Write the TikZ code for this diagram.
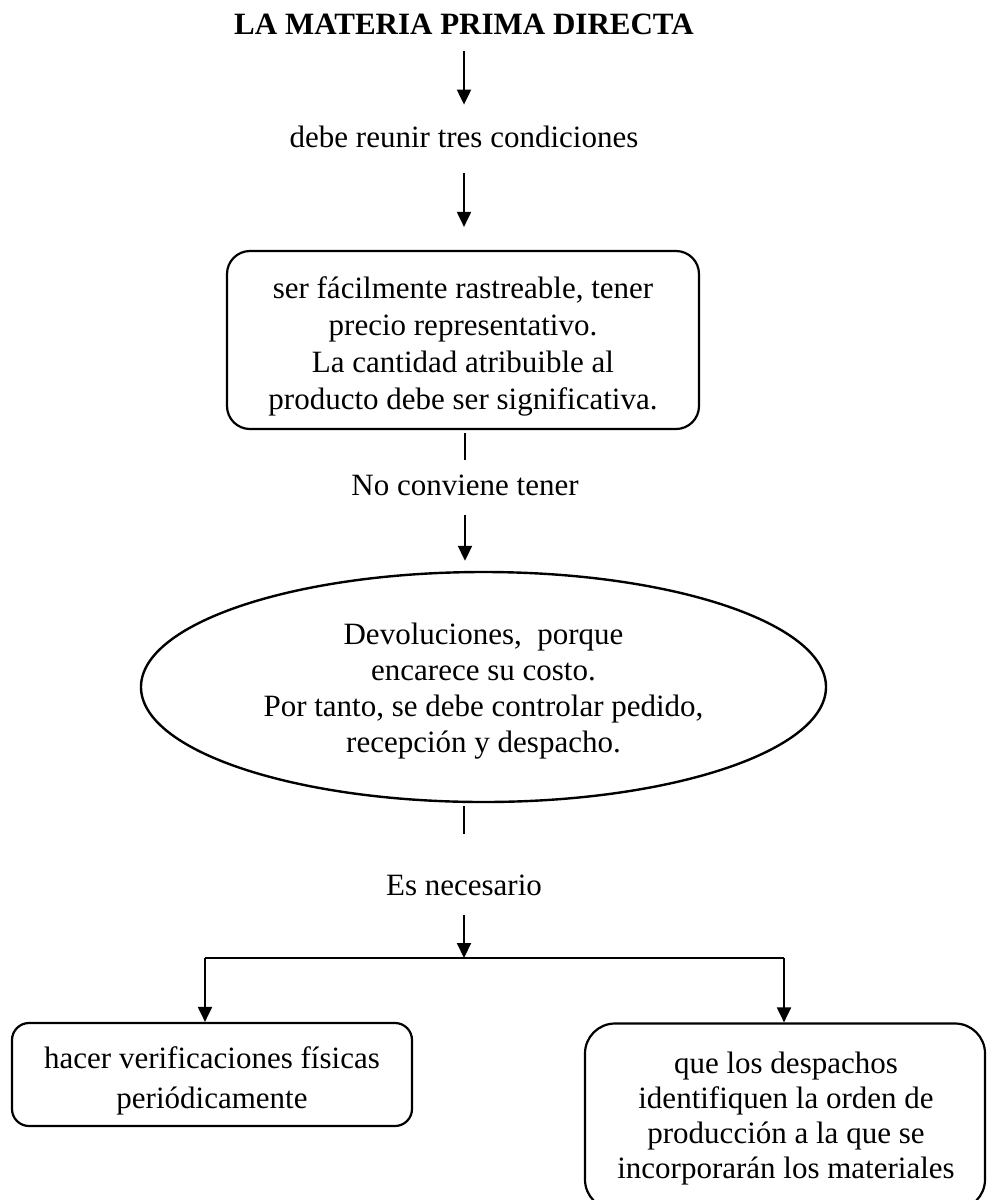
\documentclass[tikz,border=0pt]{standalone}
\usepackage{fontspec}
\setmainfont{Liberation Serif}
\usetikzlibrary{arrows.meta,shapes.geometric}
\begin{document}
\begin{tikzpicture}[x=0.5pt,y=-0.5pt,
  lbl/.style={inner sep=0pt, anchor=base, text height=10.5pt, text depth=3.5pt,
              font=\fontsize{15.5}{18.5}\selectfont},
  blk/.style={inner sep=0pt, anchor=north, align=center,
              font=\fontsize{15.5}{#1}\selectfont},
  blk/.default=18,
  frame/.style={draw, line width=1.1pt, inner sep=0pt},
  arr/.style={line width=1pt, -{Triangle[length=7.5pt,width=7pt]}},
  ln/.style={line width=1pt}]

\useasboundingbox (0,0) rectangle (987,1200);
\clip (0,0) rectangle (987,1200);

% title and first condition
\node[lbl, font=\bfseries\fontsize{15.5}{18.5}\selectfont] (title) at (464,34) {LA MATERIA PRIMA DIRECTA};
\node[lbl] (cond) at (464,147) {debe reunir tres condiciones};

% three conditions box
\node[frame, rounded corners=11.5pt, minimum width=236pt, minimum height=89pt] (box1) at (463,340) {};
\node[blk=18.5] (box1t) at (463,275.8) {ser fácilmente rastreable, tener\\precio representativo.\\La cantidad atribuible al\\producto debe ser significativa.};

\node[lbl] (nc) at (465,495) {No conviene tener};

% returns ellipse
\node[frame, ellipse, line width=1.2pt, minimum width=342.5pt, minimum height=115pt] (ell) at (483.5,687) {};
\node[blk=18] (ellt) at (483.5,622.8) {Devoluciones,\ \ porque\\encarece su costo.\\Por tanto, se debe controlar pedido,\\recepción y despacho.};

\node[lbl] (en) at (464,895) {Es necesario};

% two required actions
\node[frame, rounded corners=8.5pt, minimum width=200pt, minimum height=51.5pt] (box2) at (212,1074.5) {};
\node[blk=20] (box2t) at (212,1045.8) {hacer verificaciones físicas\\periódicamente};

\node[frame, rounded corners=15pt, minimum width=200pt, minimum height=93pt] (box3) at (785,1116.5) {};
\node[blk=17.5] (box3t) at (786,1051.8) {que los despachos\\identifiquen la orden de\\producción a la que se\\incorporarán los materiales};

% branching bar
\coordinate (split) at (464,958);
\coordinate (bl) at (205,958);
\coordinate (br) at (784,958);

% connectors
\draw[arr, shorten <=5pt, shorten >=10.5pt] (title.south) -- (cond.north);
\draw[arr, shorten <=9.5pt, shorten >=11.5pt] (cond.south) -- (cond.south |- box1.north);
\draw[ln, shorten <=1.5pt, shorten >=7pt] (box1.south -| nc.north) -- (nc.north);
\draw[arr, shorten <=6.5pt, shorten >=5pt] (nc.south) -- (nc.south |- ell.north);
\draw[ln, shorten <=1.5pt, shorten >=20pt] (en.north |- ell.south) -- (en.north);
\draw[arr, shorten <=6.5pt] (en.south) -- (split);
\draw[ln] (bl) -- (br);
\draw[arr] (bl) -- (bl |- box2.north);
\draw[arr] (br) -- (br |- box3.north);
\end{tikzpicture}
\end{document}
